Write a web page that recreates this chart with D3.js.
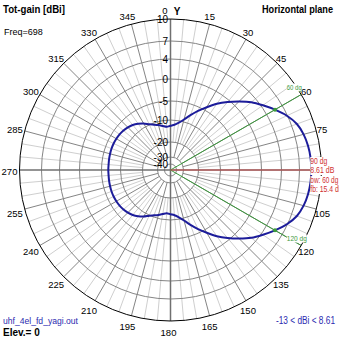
<!DOCTYPE html>
<html>
<head>
<meta charset="utf-8">
<script src="https://cdn.jsdelivr.net/npm/d3@7/dist/d3.min.js"></script>
<style>
  html, body { margin: 0; padding: 0; background: #fff; }
  svg { display: block; }
  text { font-family: "Liberation Sans", Arial, sans-serif; }
</style>
</head>
<body>
<svg id="chart" width="339" height="339"></svg>
<script>
// Azimuth samples (degrees, clockwise from Y axis) and total gain in dBi
const azimuths = d3.range(0, 360, 5);
const gainDbi = [
  -12.6, -12.1, -10.9, -9.4, -7.8, -6.0, -4.2, -2.3, -0.5, 1.2, 2.9, 4.3,
   5.61,  6.9,   7.75,  8.2,  8.45, 8.58, 8.61, 8.58, 8.45, 8.2, 7.75, 6.9,
   5.61,  4.3,   2.9,   1.2, -0.5, -2.3, -4.2, -6.0, -7.8, -9.4, -10.9, -12.1,
  -12.6, -13.0, -12.4, -11.6, -10.8, -9.9, -9.0, -8.3, -7.7, -7.3, -7.0, -6.8,
  -6.7, -6.65, -6.65, -6.7, -6.75, -6.8, -6.79, -6.8, -6.75, -6.7, -6.65, -6.65,
  -6.7, -6.8, -7.0, -7.3, -7.7, -8.3, -9.0, -9.9, -10.8, -11.6, -12.4, -13.0
];
const ringTicks = [10, 7, 4, 0, -5, -10, -20, -30, -40];
const angleTicks = d3.range(0, 360, 15);
const maxGain = 8.61;
const maxDirection = 90;
const halfPowerDirections = [60, 120];
const beamwidth = 60;
const frontToBack = 15.4;
const minGain = -13;
const freqMHz = 698;
const elevation = 0;
const fileName = "uhf_4el_fd_yagi.out";

const W = 339, H = 339;
const cx = 170.5, cy = 170, R = 151;

const svg = d3.select("#chart");
const g = svg.append("g").attr("transform", `translate(${cx},${cy})`);

// Compressed dB radial scale through the labelled rings
const r = d3.scaleLinear()
  .domain([-40, -30, -20, -10, -5, 0, 4, 7, 10])
  .range([6, 13, 28, 50, 69, 91, 111, 129, R])
  .clamp(true);

const rad = d => d * Math.PI / 180;
const px = (a, rr) => rr * Math.sin(rad(a));
const py = (a, rr) => -rr * Math.cos(rad(a));

// Fine 5-degree spokes
g.selectAll("line.fine")
  .data(d3.range(0, 360, 5).filter(a => a % 15 !== 0))
  .join("line")
  .attr("x1", a => px(a, r(-20))).attr("y1", a => py(a, r(-20)))
  .attr("x2", a => px(a, R)).attr("y2", a => py(a, R))
  .attr("stroke", "#cfcfcf").attr("stroke-width", 1);

// 15-degree spokes
g.selectAll("line.major")
  .data(angleTicks.filter(a => a % 90 !== 0))
  .join("line")
  .attr("x1", a => px(a, r(-30))).attr("y1", a => py(a, r(-30)))
  .attr("x2", a => px(a, R)).attr("y2", a => py(a, R))
  .attr("stroke", "#858585").attr("stroke-width", 1);

// dB rings
g.selectAll("circle.ring")
  .data(ringTicks.slice(1))
  .join("circle")
  .attr("r", d => r(d))
  .attr("fill", "none").attr("stroke", "#858585").attr("stroke-width", 1);

// Main axes
g.append("line").attr("x1", 0).attr("y1", -R).attr("x2", 0).attr("y2", R)
  .attr("stroke", "#707070").attr("stroke-width", 1.5);
g.append("line").attr("x1", -R).attr("y1", 0).attr("x2", R).attr("y2", 0)
  .attr("stroke", "#707070").attr("stroke-width", 1.5);

// Outer ring
g.append("circle").attr("r", R).attr("fill", "none")
  .attr("stroke", "#000").attr("stroke-width", 1);

// Azimuth labels
g.selectAll("text.az")
  .data(angleTicks.filter(a => a !== 0))
  .join("text")
  .attr("x", a => px(a, R + 8) - 2)
  .attr("y", a => py(a, R + 8) + 1.5 * (1 - Math.cos(rad(a))))
  .attr("text-anchor", "middle").attr("dominant-baseline", "central")
  .attr("font-size", "9.5px").attr("fill", "#000")
  .text(a => a);
g.append("text").attr("x", -5.5).attr("y", py(0, R + 8) - 0.5)
  .attr("text-anchor", "middle").attr("dominant-baseline", "central")
  .attr("font-size", "9.5px").text("0");
g.append("text").attr("x", 6.5).attr("y", py(0, R + 8))
  .attr("text-anchor", "middle").attr("dominant-baseline", "central")
  .attr("font-size", "10px").attr("font-weight", "bold").text("Y");

// Ring labels along the vertical axis
g.selectAll("text.ring")
  .data(ringTicks)
  .join("text")
  .attr("x", -2.5).attr("y", d => -r(d))
  .attr("text-anchor", "end").attr("dominant-baseline", "central")
  .attr("font-size", "10px").attr("fill", "#000")
  .text(d => d);

// Half-power direction lines
const green = "#3c9a3c";
g.selectAll("line.hp")
  .data(halfPowerDirections)
  .join("line")
  .attr("x1", 0).attr("y1", 0)
  .attr("x2", a => px(a, R)).attr("y2", a => py(a, R))
  .attr("stroke", green).attr("stroke-width", 1);

// Max-gain direction line
g.append("line").attr("x1", 0).attr("y1", 0)
  .attr("x2", px(maxDirection, r(maxGain))).attr("y2", py(maxDirection, r(maxGain)))
  .attr("stroke", "#d05050").attr("stroke-width", 1);

// Radiation pattern
const pattern = azimuths.map((a, i) => ({ a, v: gainDbi[i] }));
const line = d3.lineRadial()
  .angle(d => rad(d.a))
  .radius(d => r(d.v))
  .curve(d3.curveCardinalClosed.tension(0.2));
g.append("path").datum(pattern)
  .attr("d", line)
  .attr("fill", "none").attr("stroke", "#1c1c9a").attr("stroke-width", 2);

// Half-power points
g.selectAll("circle.hp")
  .data(halfPowerDirections)
  .join("circle")
  .attr("cx", a => px(a, r(maxGain - 3))).attr("cy", a => py(a, r(maxGain - 3)))
  .attr("r", 2).attr("fill", green);

// Text with an opaque background
function boxedText(sel, x, y, txt, color, size, len) {
  const t = sel.append("text").attr("x", x).attr("y", y)
    .attr("font-size", size).attr("fill", color).text(txt);
  if (len) t.attr("textLength", len).attr("lengthAdjust", "spacingAndGlyphs");
  const b = t.node().getBBox();
  sel.insert("rect", () => t.node())
    .attr("x", b.x).attr("y", b.y + 1).attr("width", b.width).attr("height", b.height - 1)
    .attr("fill", "#fff");
  return t;
}

halfPowerDirections.forEach((a, i) => {
  boxedText(g, px(a, R) - 14.5, py(a, R) - 5, `${a} dg`, green, "8px", [15, 20][i]);
});

const red = "#d03030";
const lx = px(maxDirection, r(maxGain)) - 1;
[`${maxDirection} dg`, `${maxGain} dB`, `bw: ${beamwidth} dg`, `fb: ${frontToBack} dB`]
  .forEach((s, i) => boxedText(g, lx, [-6, 3, 13, 22][i], s, red, "9px", [17, 24, 28, 33][i]));

// Titles and footers
svg.append("text").attr("x", 3).attr("y", 13)
  .attr("font-size", "11px").attr("font-weight", "bold")
  .attr("textLength", 62).attr("lengthAdjust", "spacingAndGlyphs")
  .text("Tot-gain [dBi]");
svg.append("text").attr("x", 262).attr("y", 13)
  .attr("font-size", "11px").attr("font-weight", "bold")
  .attr("textLength", 71).attr("lengthAdjust", "spacingAndGlyphs")
  .text("Horizontal plane");
svg.append("text").attr("x", 4).attr("y", 35)
  .attr("font-size", "9px").text(`Freq=${freqMHz}`);
svg.append("text").attr("x", 3).attr("y", 324)
  .attr("font-size", "9.5px").attr("fill", "#2b2bb0")
  .attr("textLength", 75).attr("lengthAdjust", "spacingAndGlyphs")
  .text(fileName);
svg.append("text").attr("x", 3).attr("y", 336)
  .attr("font-size", "10px").attr("font-weight", "bold").text(`Elev.= ${elevation}`);
svg.append("text").attr("x", 276).attr("y", 324)
  .attr("font-size", "10px").attr("fill", "#2b2bb0")
  .attr("textLength", 59).attr("lengthAdjust", "spacingAndGlyphs")
  .text(`${minGain} < dBi < ${maxGain}`);
</script>
</body>
</html>
